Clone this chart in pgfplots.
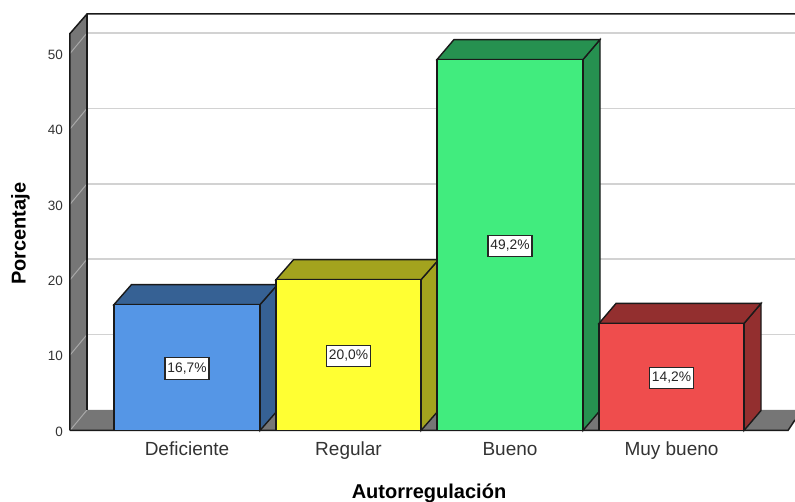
\documentclass[border=0pt]{standalone}
\usepackage{pgfplots}
\pgfplotsset{compat=1.18}
\usepackage{fontspec}
\setmainfont[Ligatures=NoCommon]{Liberation Sans}
\definecolor{wallgrey}{HTML}{767676}
\definecolor{gridg}{HTML}{D2D2D2}
\definecolor{gridw}{HTML}{A8A8A8}
\definecolor{edgec}{HTML}{1A1A1A}
\definecolor{bluef}{HTML}{5596E6}
\definecolor{bluet}{HTML}{366194}
\definecolor{yellowf}{HTML}{FFFF33}
\definecolor{yellowt}{HTML}{A3A31E}
\definecolor{greenf}{HTML}{41EC7E}
\definecolor{greent}{HTML}{269150}
\definecolor{redf}{HTML}{EF4D4D}
\definecolor{redt}{HTML}{932F2F}
\begin{document}
\begin{tikzpicture}
\begin{axis}[
  scale only axis, width=725pt, height=416.5pt,
  xmin=70, xmax=795, ymin=0, ymax=55.24,
  clip=false, axis line style={draw=none},
  major tick length=0pt, tick style={draw=none},
  xtick={187,348.5,510,671.5},
  xticklabels={Deficiente,Regular,Bueno,Muy bueno},
  ytick={0,10,20,30,40,50},
  /pgf/number format/assume math mode=true,
  yticklabel style={font=\fontsize{13.5}{14}\selectfont, text=black!80, anchor=east, inner sep=0pt, xshift=-7pt, yshift=-1.2pt},
  xticklabel style={font=\fontsize{19}{20}\selectfont, text=black!80, anchor=center, inner sep=0pt, yshift=-20pt, text height=13.6pt, text depth=4pt},
  xlabel={\textbf{Autorregulación}},
  ylabel={\textbf{Porcentaje}},
  xlabel style={font=\fontsize{20}{21}\selectfont, at={(axis cs:429,-8.3)}, anchor=center, inner sep=0pt},
  ylabel style={font=\fontsize{20}{21}\selectfont, at={(axis cs:20.5,26.1)}, anchor=center, inner sep=0pt},
  no markers,
]
% back wall grid lines
\addplot[gridg, line width=1.6pt] coordinates {(87,12.72)(795,12.72)};
\addplot[gridg, line width=1.6pt] coordinates {(87,22.72)(795,22.72)};
\addplot[gridg, line width=1.6pt] coordinates {(87,32.72)(795,32.72)};
\addplot[gridg, line width=1.6pt] coordinates {(87,42.72)(795,42.72)};
\addplot[gridg, line width=1.6pt] coordinates {(87,52.72)(795,52.72)};
% floor
\addplot[fill=wallgrey, draw=none] coordinates {(70,0)(788,0)(795,1.4)(795,2.72)(87,2.72)} --cycle;
% left wall
\addplot[fill=wallgrey, draw=none] coordinates {(70,0)(70,52.65)(87,55.24)(87,2.72)} --cycle;
\addplot[gridw, line width=1pt] coordinates {(70,0)(87,2.72)};
\addplot[gridw, line width=1pt] coordinates {(70,10)(87,12.72)};
\addplot[gridw, line width=1pt] coordinates {(70,20)(87,22.72)};
\addplot[gridw, line width=1pt] coordinates {(70,30)(87,32.72)};
\addplot[gridw, line width=1pt] coordinates {(70,40)(87,42.72)};
\addplot[gridw, line width=1pt] coordinates {(70,50)(87,52.72)};
% wall outlines
\addplot[edgec, line width=1.5pt] coordinates {(70,0)(70,52.65)(87,55.24)(795,55.24)};
\addplot[edgec, line width=1.5pt] coordinates {(87,55.24)(87,2.72)};
\addplot[edgec, line width=1.5pt] coordinates {(70,0)(788,0)(795,1.4)};
% bars: side, top, front
\addplot[fill=bluet, draw=edgec, line width=1.4pt] coordinates {(260,0)(277.5,2.65)(277.5,19.35)(260,16.7)} --cycle;
\addplot[fill=bluet, draw=edgec, line width=1.4pt] coordinates {(114,16.7)(131.5,19.35)(277.5,19.35)(260,16.7)} --cycle;
\addplot[fill=bluef, draw=edgec, line width=1.4pt] coordinates {(114,0)(114,16.7)(260,16.7)(260,0)} --cycle;
\addplot[fill=yellowt, draw=edgec, line width=1.4pt] coordinates {(421,0)(438.5,2.65)(438.5,22.65)(421,20)} --cycle;
\addplot[fill=yellowt, draw=edgec, line width=1.4pt] coordinates {(276,20)(293.5,22.65)(438.5,22.65)(421,20)} --cycle;
\addplot[fill=yellowf, draw=edgec, line width=1.4pt] coordinates {(276,0)(276,20)(421,20)(421,0)} --cycle;
\addplot[fill=greent, draw=edgec, line width=1.4pt] coordinates {(583,0)(600,2.65)(600,51.85)(583,49.2)} --cycle;
\addplot[fill=greent, draw=edgec, line width=1.4pt] coordinates {(437,49.2)(454,51.85)(600,51.85)(583,49.2)} --cycle;
\addplot[fill=greenf, draw=edgec, line width=1.4pt] coordinates {(437,0)(437,49.2)(583,49.2)(583,0)} --cycle;
\addplot[fill=redt, draw=edgec, line width=1.4pt] coordinates {(744,0)(761,2.65)(761,16.85)(744,14.2)} --cycle;
\addplot[fill=redt, draw=edgec, line width=1.4pt] coordinates {(599,14.2)(616,16.85)(761,16.85)(744,14.2)} --cycle;
\addplot[fill=redf, draw=edgec, line width=1.4pt] coordinates {(599,0)(599,14.2)(744,14.2)(744,0)} --cycle;
% value labels
\addplot[draw=none, point meta=explicit symbolic,
  nodes near coords,
  every node near coord/.append style={anchor=center, draw=black!85, fill=white, line width=1.2pt,
    font=\fontsize{13.8}{14}\selectfont, inner xsep=2.5pt, inner ysep=3.5pt, text=black!85,
    text height=11pt, text depth=3.5pt, yshift=-1pt}]
  table[x=x, y=y, meta=lab, row sep=\\] {
  x y lab\\
  187 8.35 {16,7\%}\\
  348.5 10 {20,0\%}\\
  510 24.6 {49,2\%}\\
  671.5 7.1 {14,2\%}\\
};
\end{axis}
\pgfresetboundingbox
\useasboundingbox (-70pt,-71.5pt) rectangle (725pt,430.5pt);
\end{tikzpicture}
\end{document}
